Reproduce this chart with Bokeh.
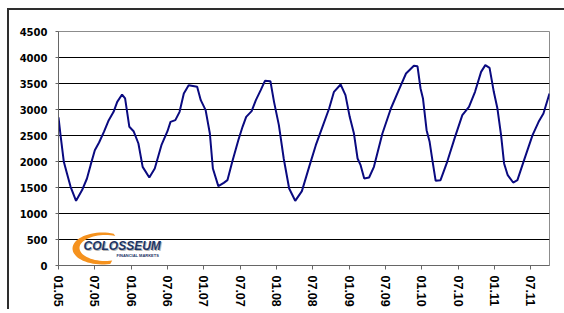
import numpy as np
from bokeh.plotting import figure
from bokeh.models import Range1d, FixedTicker, Label, PolyAnnotation
from bokeh.embed import file_html
from bokeh.resources import INLINE

# months since Jan 2005 and values
months = [0, 0.33, 0.88, 1.4, 2.0, 2.9, 3.9, 4.7, 5.3, 6.0, 6.7, 7.5, 8.3, 9.1, 9.7,
          10.5, 11.0, 11.7, 12.4, 13.2, 13.9, 15.0, 15.9, 17.0, 18.0, 18.5, 19.3, 20.0,
          20.7, 21.5, 22.9, 23.5, 24.3, 25.0, 25.5, 26.4, 27.3, 27.9, 28.7, 29.7, 30.4,
          31.0, 31.9, 32.6, 33.4, 34.1, 35.0, 35.6, 36.4, 37.2, 38.1, 39.1, 40.2, 41.4,
          42.5, 43.6, 44.7, 45.5, 46.6, 47.4, 48.1, 48.8, 49.4, 49.9, 50.5, 51.3, 52.1,
          53.5, 54.9, 56.2, 57.4, 58.7, 59.3, 59.8, 60.2, 60.8, 61.3, 61.8, 62.3, 63.1,
          64.2, 65.5, 66.7, 67.8, 68.8, 69.8, 70.5, 71.2, 71.9, 72.5, 73.1, 73.6, 74.2,
          75.1, 75.8, 76.9, 78.3, 79.3, 80.1, 81.1]
values = [2850, 2510, 1994, 1770, 1513, 1244, 1450, 1673, 1930, 2218, 2365, 2570, 2795, 2955, 3147,
          3288, 3212, 2667, 2583, 2346, 1897, 1692, 1865, 2314, 2583, 2763, 2795, 2955,
          3308, 3468, 3436, 3180, 2987, 2538, 1865, 1526, 1590, 1641, 1994, 2410, 2667,
          2859, 2968, 3180, 3372, 3551, 3545, 3147, 2699, 2058, 1481, 1244, 1430, 1897,
          2314, 2667, 3019, 3340, 3481, 3276, 2859, 2538, 2058, 1930, 1673, 1692, 1897,
          2538, 3019, 3372, 3692, 3840, 3830, 3404, 3212, 2603, 2378, 1994, 1628, 1641,
          1994, 2474, 2891, 3051, 3340, 3724, 3853, 3801, 3340, 3019, 2506, 1962, 1737,
          1596, 1641, 2026, 2506, 2763, 2923, 3308]

x_ticks = [0, 6, 12, 18, 24, 30, 36, 42, 48, 54, 60, 66, 72, 78]
x_labels = ["01.05", "07.05", "01.06", "07.06", "01.07", "07.07", "01.08", "07.08",
            "01.09", "07.09", "01.10", "07.10", "01.11", "07.11"]
y_ticks = [0, 500, 1000, 1500, 2000, 2500, 3000, 3500, 4000, 4500]

X_END = 81.1
Y_END = 4500

p = figure(frame_width=491, frame_height=234,
           x_range=Range1d(0, X_END), y_range=Range1d(0, Y_END),
           output_backend="svg", toolbar_location=None,
           min_border_left=49, min_border_top=21, min_border_right=15, min_border_bottom=0)
p.styles = {"border-top": "2px solid #2e2e2e", "border-left": "2px solid #2e2e2e",
            "margin-left": "7px", "margin-top": "8px"}

p.background_fill_color = "white"
p.border_fill_color = "white"
p.outline_line_color = "#8c8c8c"
p.outline_line_width = 1

p.xgrid.visible = False
p.ygrid.ticker = FixedTicker(ticks=y_ticks[1:-1])
p.ygrid.grid_line_color = "black"
p.ygrid.grid_line_width = 1

# y axis
p.yaxis.ticker = FixedTicker(ticks=y_ticks)
p.yaxis.axis_line_color = "#666666"
p.yaxis.major_tick_line_color = "#666666"
p.yaxis.major_tick_out = 3
p.yaxis.major_tick_in = 0
p.yaxis.minor_tick_line_color = None
p.yaxis.major_label_standoff = 8
p.yaxis.major_label_text_font = "DejaVu Sans"
p.yaxis.major_label_text_font_style = "bold"
p.yaxis.major_label_text_font_size = "10px"
p.yaxis.major_label_text_color = "black"

# x axis
p.xaxis.ticker = FixedTicker(ticks=x_ticks)
p.xaxis.major_label_overrides = {t: l for t, l in zip(x_ticks, x_labels)}
p.xaxis.major_label_orientation = "vertical"
p.xaxis.axis_line_color = "#666666"
p.xaxis.major_tick_line_color = "#666666"
p.xaxis.major_tick_out = 4
p.xaxis.major_tick_in = 0
p.xaxis.minor_tick_line_color = None
p.xaxis.major_label_standoff = 6
p.xaxis.major_label_text_font = "Liberation Sans"
p.xaxis.major_label_text_font_style = "bold"
p.xaxis.major_label_text_font_size = "12.5px"
p.xaxis.major_label_text_color = "black"

p.line(months, values, line_color="#0a0a80", line_width=2)

# logo (decoration), positions converted from frame pixels
def px_to_data(px, py):
    return ((np.asarray(px) - 58) / 491 * X_END, (265 - np.asarray(py)) / 234 * Y_END)

th_o = np.radians(np.linspace(68, 285, 40))
th_i = np.radians(np.linspace(285, 68, 40))
sx = np.concatenate([102 + 30 * np.cos(th_o), 105 + 26 * np.cos(th_i)])
sy = np.concatenate([248 - 16 * np.sin(th_o), 247.5 - 13 * np.sin(th_i)])
dx, dy = px_to_data(sx, sy)
p.add_layout(PolyAnnotation(xs=list(dx), ys=list(dy), fill_color="#f5921e", fill_alpha=1,
                            line_color=None))

lx, ly = px_to_data(83, 252)
p.add_layout(Label(x=lx, y=ly, x_offset=1, y_offset=-1, text="COLOSSEUM", text_font="Liberation Sans",
                   text_font_style="bold italic", text_font_size="12px", text_color="#b5b5b5"))
p.add_layout(Label(x=lx, y=ly, text="COLOSSEUM", text_font="Liberation Sans",
                   text_font_style="bold italic", text_font_size="12px", text_color="#1d3566"))
fx, fy = px_to_data(116, 257)
p.add_layout(Label(x=fx, y=fy, text="FINANCIAL MARKETS", text_font="Liberation Sans",
                   text_font_style="bold", text_font_size="4px", text_color="#1d3566"))

open("out.html", "w").write(file_html(p, INLINE))
